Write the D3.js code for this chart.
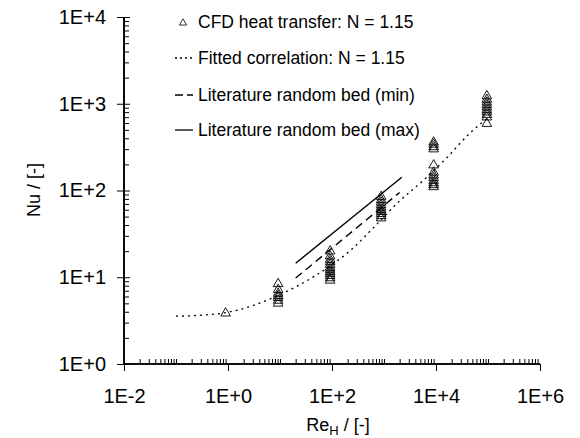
<!DOCTYPE html>
<html>
<head>
<meta charset="utf-8">
<script src="https://cdn.jsdelivr.net/npm/d3@7"></script>
<style>
  body { margin: 0; background: #fff; }
  text { font-family: "Liberation Sans", Arial, sans-serif; fill: #000; }
</style>
</head>
<body>
<div id="chart"></div>
<script>
// CFD heat transfer points: Re_H groups and their Nu values
const reGroups = [0.9, 9.2, 92, 880, 9000, 95000];
const nuValues = [
  [3.85],
  [8.4, 7.2, 6.5, 6.1, 5.8, 5.4, 5.0],
  [20, 17.5, 16, 15, 14, 13, 12.3, 11.6, 11, 10.4, 9.8, 9.2],
  [85, 78, 73, 68, 64, 60, 57, 54, 51, 48],
  [360, 340, 318, 300, 196, 162, 150, 140, 130, 122, 116, 110],
  [1230, 1120, 1040, 970, 910, 850, 800, 750, 700, 590]
];

// fitted correlation (dotted)
const fitRe = [0.1, 0.3, 1, 3.6, 10, 38, 92, 222, 733, 1780, 5630, 16300, 45000, 100000];
const fitNu = [3.56, 3.65, 3.95, 4.9, 6.3, 9.6, 13.5, 20.2, 41, 71, 130, 240, 460, 690];

// literature random bed correlations
const litMinRe = [20, 2000];
const litMinNu = [9.8, 95];
const litMaxRe = [20, 2200];
const litMaxNu = [14.5, 142];

const xMajor = [1e-2, 1e0, 1e2, 1e4, 1e6];
const yMajor = [1e0, 1e1, 1e2, 1e3, 1e4];

const legendLabels = [
  "CFD heat transfer: N = 1.15",
  "Fitted correlation: N = 1.15",
  "Literature random bed (min)",
  "Literature random bed (max)"
];

const width = 580, height = 438;

const svg = d3.select("#chart").append("svg")
  .attr("width", width).attr("height", height);

const x = d3.scaleLog().domain([1e-2, 1e6]).range([124, 540]);
const y = d3.scaleLog().domain([1, 1e4]).range([364, 17]);

const fmt = d => {
  const e = Math.round(Math.log10(d));
  return "1E" + (e < 0 ? "-" : "+") + Math.abs(e);
};

// minor tick values: 2..9 of every decade plus odd decades
function minorTicks(lo, hi, majors) {
  const out = [];
  for (let e = lo; e < hi; e++) {
    for (let m = 1; m <= 9; m++) {
      const v = m * Math.pow(10, e);
      if (!majors.some(t => Math.abs(t - v) / v < 1e-9)) out.push(v);
    }
  }
  return out;
}

// x axis
const gx = svg.append("g").attr("transform", `translate(0,${y(1)})`);
gx.call(d3.axisBottom(x).tickValues(minorTicks(-2, 6, xMajor)).tickSize(-5).tickFormat(""));
gx.append("g").call(d3.axisBottom(x).tickValues(xMajor).tickSize(7).tickFormat(fmt));
gx.selectAll(".domain").attr("stroke-width", 1.6);
gx.selectAll(".tick line").attr("stroke-width", 1);
gx.selectAll(".tick text").attr("font-size", 20).attr("y", 21).attr("dy", "0.9em");

// y axis
const gy = svg.append("g").attr("transform", `translate(${x(1e-2)},0)`);
gy.call(d3.axisRight(y).tickValues(minorTicks(0, 4, yMajor)).tickSize(5).tickFormat(""));
const gyMaj = gy.append("g").call(d3.axisLeft(y).tickValues(yMajor).tickSize(7).tickFormat(fmt));
gyMaj.selectAll(".tick line").attr("x2", -7).attr("x1", 6);
gy.selectAll(".domain").attr("stroke-width", 1.6);
gy.selectAll(".tick text").attr("font-size", 20).attr("x", -18);
gx.selectAll(".domain").attr("d", `M${x.range()[0]},0H${x.range()[1]}`);
gy.selectAll(".domain").attr("d", `M0,${y.range()[0]}V${y.range()[1]}`);

// axis titles
const xt = svg.append("text").attr("x", 338).attr("y", 431)
  .attr("text-anchor", "middle").attr("font-size", 18);
xt.append("tspan").text("Re");
xt.append("tspan").attr("font-size", 13).attr("dy", 4).text("H");
xt.append("tspan").attr("dy", -4).text(" / [-]");

svg.append("text")
  .attr("transform", "translate(40,190) rotate(-90)")
  .attr("text-anchor", "middle").attr("font-size", 18)
  .text("Nu / [-]");

// lines
const line = d3.line().x(d => x(d[0])).y(d => y(d[1]));
const plot = svg.append("g");

plot.append("path")
  .datum(d3.zip(fitRe, fitNu))
  .attr("d", line.curve(d3.curveMonotoneX))
  .attr("fill", "none").attr("stroke", "#000").attr("stroke-width", 1.3)
  .attr("stroke-dasharray", "2,4");

plot.append("path")
  .datum(d3.zip(litMinRe, litMinNu))
  .attr("d", d3.line().x(d => x(d[0])).y(d => y(d[1])))
  .attr("fill", "none").attr("stroke", "#000").attr("stroke-width", 1.4)
  .attr("stroke-dasharray", "8,5");

plot.append("path")
  .datum(d3.zip(litMaxRe, litMaxNu))
  .attr("d", d3.line().x(d => x(d[0])).y(d => y(d[1])))
  .attr("fill", "none").attr("stroke", "#000").attr("stroke-width", 1.4);

// CFD triangles
const pts = [];
reGroups.forEach((re, i) => nuValues[i].forEach(nu => pts.push([re, nu])));
const tri = d3.symbol().type(d3.symbolTriangle).size(40);
plot.selectAll("path.pt").data(pts).join("path")
  .attr("class", "pt")
  .attr("d", tri)
  .attr("transform", d => `translate(${x(d[0])},${y(d[1])})`)
  .attr("fill", "none").attr("stroke", "#000").attr("stroke-width", 0.9);

// legend
const lg = svg.append("g");
const rowY = [22, 58, 95, 130];
lg.append("path").attr("d", d3.symbol().type(d3.symbolTriangle).size(22))
  .attr("transform", `translate(183,${rowY[0] + 1})`)
  .attr("fill", "none").attr("stroke", "#000").attr("stroke-width", 0.8);
const styles = [null, "2,3", "8,4", null];
[1, 2, 3].forEach(i => {
  lg.append("line").attr("x1", 175).attr("x2", 193)
    .attr("y1", rowY[i]).attr("y2", rowY[i])
    .attr("stroke", "#000").attr("stroke-width", 1.3)
    .attr("stroke-dasharray", styles[i]);
});
lg.selectAll("text").data(legendLabels).join("text")
  .attr("x", 198).attr("y", (d, i) => rowY[i])
  .attr("dy", "0.35em").attr("font-size", 17.5)
  .text(d => d);
</script>
</body>
</html>
